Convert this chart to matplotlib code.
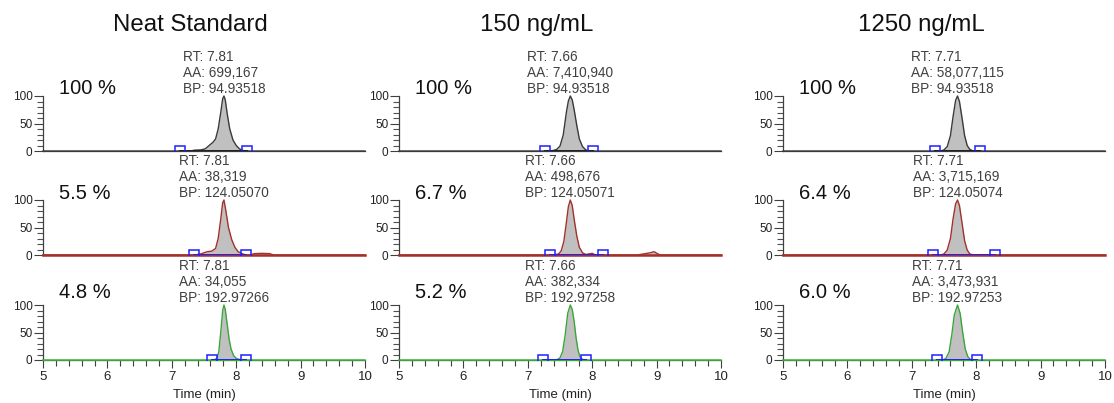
import matplotlib.pyplot as plt
from matplotlib.ticker import MultipleLocator
import matplotlib.transforms as mtransforms

plt.rcParams['font.family'] = ['Liberation Sans', 'DejaVu Sans']

# --- data ---
titles = ["Neat Standard", "150 ng/mL", "1250 ng/mL"]

rt = [[7.81, 7.81, 7.81], [7.66, 7.66, 7.66], [7.71, 7.71, 7.71]]
aa = [["699,167", "38,319", "34,055"],
      ["7,410,940", "498,676", "382,334"],
      ["58,077,115", "3,715,169", "3,473,931"]]
bp = [["94.93518", "124.05070", "192.97266"],
      ["94.93518", "124.05071", "192.97258"],
      ["94.93518", "124.05074", "192.97253"]]
pct = [["100 %", "5.5 %", "4.8 %"],
       ["100 %", "6.7 %", "5.2 %"],
       ["100 %", "6.4 %", "6.0 %"]]
# integration boundary markers (start, end)
bounds = [[(7.13, 8.17), (7.35, 8.15), (7.63, 8.15)],
          [(7.27, 8.01), (7.34, 8.16), (7.23, 7.91)],
          [(7.36, 8.06), (7.33, 8.29), (7.39, 8.01)]]

# traces (time, relative intensity)
t_neat_1 = [5.0, 7.30, 7.35, 7.45, 7.52, 7.58, 7.64, 7.68, 7.72, 7.76, 7.79, 7.81, 7.83, 7.86, 7.90, 7.95, 8.00, 8.05, 8.10, 8.15, 10.0]
y_neat_1 = [0, 0, 1.5, 2, 4, 10, 16, 22, 40, 70, 95, 100, 93, 68, 40, 20, 10, 4, 1, 0, 0]
t_neat_2 = [5.0, 7.35, 7.45, 7.55, 7.62, 7.68, 7.72, 7.76, 7.79, 7.81, 7.84, 7.88, 7.93, 7.98, 8.03, 8.10, 8.15, 8.22, 8.28, 8.40, 8.52, 8.58, 10.0]
y_neat_2 = [0, 0, 2, 6, 7, 12, 30, 65, 95, 100, 80, 50, 28, 14, 6, 2, 0, 0, 2.5, 3, 2.5, 0, 0]
t_neat_3 = [5.0, 7.65, 7.70, 7.73, 7.76, 7.79, 7.81, 7.83, 7.86, 7.89, 7.92, 7.96, 8.00, 8.05, 8.10, 10.0]
y_neat_3 = [0, 0, 3, 15, 50, 90, 100, 92, 65, 38, 20, 8, 3, 1, 0, 0]

t_150_1 = [5.0, 7.30, 7.40, 7.45, 7.50, 7.55, 7.60, 7.63, 7.66, 7.69, 7.72, 7.76, 7.80, 7.85, 7.90, 7.95, 8.00, 10.0]
y_150_1 = [0, 0, 1, 3, 9, 29, 71, 91, 100, 93, 75, 47, 22, 8, 2, 0.5, 0, 0]
t_150_2 = [5.0, 7.40, 7.48, 7.52, 7.56, 7.60, 7.63, 7.66, 7.69, 7.72, 7.76, 7.80, 7.85, 7.90, 7.95, 8.00, 8.05, 8.70, 8.80, 8.90, 8.96, 9.02, 9.06, 10.0]
y_150_2 = [0, 0, 2, 8, 25, 60, 88, 100, 90, 65, 35, 14, 4, 1, 2, 3, 0, 0, 2, 4, 6, 2, 0, 0]
t_150_3 = [5.0, 7.40, 7.46, 7.50, 7.54, 7.58, 7.62, 7.66, 7.69, 7.72, 7.75, 7.78, 7.81, 7.85, 7.90, 10.0]
y_150_3 = [0, 0, 1, 4, 15, 45, 85, 100, 92, 70, 40, 18, 6, 1, 0, 0]

t_1250_1 = [5.0, 7.45, 7.50, 7.55, 7.60, 7.64, 7.68, 7.71, 7.74, 7.78, 7.82, 7.86, 7.90, 7.95, 10.0]
y_1250_1 = [0, 0, 2, 8, 28, 62, 92, 100, 90, 60, 28, 10, 3, 0, 0]
t_1250_2 = [5.0, 7.45, 7.50, 7.55, 7.60, 7.64, 7.68, 7.71, 7.74, 7.78, 7.82, 7.86, 7.90, 7.95, 10.0]
y_1250_2 = [0, 0, 2, 9, 30, 65, 93, 100, 90, 58, 26, 9, 2, 0, 0]
t_1250_3 = [5.0, 7.48, 7.53, 7.58, 7.62, 7.66, 7.71, 7.75, 7.79, 7.83, 7.87, 7.91, 7.95, 10.0]
y_1250_3 = [0, 0, 3, 15, 45, 82, 100, 85, 50, 20, 6, 1, 0, 0]

traces = [[(t_neat_1, y_neat_1), (t_neat_2, y_neat_2), (t_neat_3, y_neat_3)],
          [(t_150_1, y_150_1), (t_150_2, y_150_2), (t_150_3, y_150_3)],
          [(t_1250_1, y_1250_1), (t_1250_2, y_1250_2), (t_1250_3, y_1250_3)]]

# --- styling ---
row_colors = ["#3a3a3a", "#a5302a", "#3aa63a"]
spine_widths = [0.9, 1.8, 1.0]
base_colors = ["#202020", "#1f1fff", "#1f1fff"]
pct_y = [1.13, 1.11, 1.23]
col_left = [43, 399, 783]
row_zero = [151, 255, 360]
title_x = [190, 537, 921]
W, H = 1114, 403

fig = plt.figure(figsize=(W / 100, H / 100), dpi=100)

for c in range(3):
    fig.text(title_x[c] / W, 1 - 25 / H, titles[c], fontsize=17.3,
             ha="center", va="center", color="#111111")
    for r in range(3):
        ax = fig.add_axes([col_left[c] / W, 1 - row_zero[r] / H, 322 / W, 55 / H])
        t, y = traces[c][r]
        ax.fill_between(t, y, 0, color="#c0c0c0", linewidth=0)
        ax.plot(t, y, color=row_colors[r], lw=1.0, clip_on=False, zorder=3)
        b0, b1 = bounds[c][r]
        ax.plot([b0, b1], [0, 0], color=base_colors[r], lw=1.4, zorder=4)
        ax.plot([b0, b1], [0, 0], ls="none", marker="s", ms=7.5,
                mfc="none", mec="#1f1fff", mew=1.1, zorder=5)

        ax.set_xlim(5, 10)
        ax.set_ylim(0, 100)
        for s in ["top", "right"]:
            ax.spines[s].set_visible(False)
        ax.spines["left"].set_color("#404040")
        ax.spines["left"].set_linewidth(0.9)
        ax.spines["bottom"].set_color(row_colors[r])
        ax.spines["bottom"].set_linewidth(spine_widths[r])

        ax.yaxis.set_major_locator(MultipleLocator(50))
        ax.yaxis.set_minor_locator(MultipleLocator(10))
        ax.tick_params(axis="y", which="major", length=6.5, width=0.8,
                       labelsize=8.5, colors="#404040", labelcolor="#222222", pad=1)
        ax.tick_params(axis="y", which="minor", length=4, width=0.8, colors="#505050")

        if r == 2:
            ax.xaxis.set_major_locator(MultipleLocator(1))
            ax.xaxis.set_minor_locator(MultipleLocator(0.2))
            ax.tick_params(axis="x", which="major", length=6, width=0.8,
                           labelsize=9.5, colors="#404040", labelcolor="#222222", pad=2)
            ax.tick_params(axis="x", which="minor", length=4, width=0.8, colors="#404040")
            ax.set_xlabel("Time (min)", fontsize=9.5, color="#222222", labelpad=4)
        else:
            ax.set_xticks([])

        trans = mtransforms.blended_transform_factory(ax.transData, ax.transAxes)
        ax.text(rt[c][r], 1.0, f"RT: {rt[c][r]:.2f}\nAA: {aa[c][r]}\nBP: {bp[c][r]}",
                transform=trans, ha="center", va="bottom", multialignment="left",
                fontsize=9.8, color="#404040", linespacing=1.18)
        ax.text(0.05, pct_y[r], pct[c][r], transform=ax.transAxes,
                ha="left", va="center", fontsize=14.5, color="#111111")

fig.savefig("out.png", dpi=100)
